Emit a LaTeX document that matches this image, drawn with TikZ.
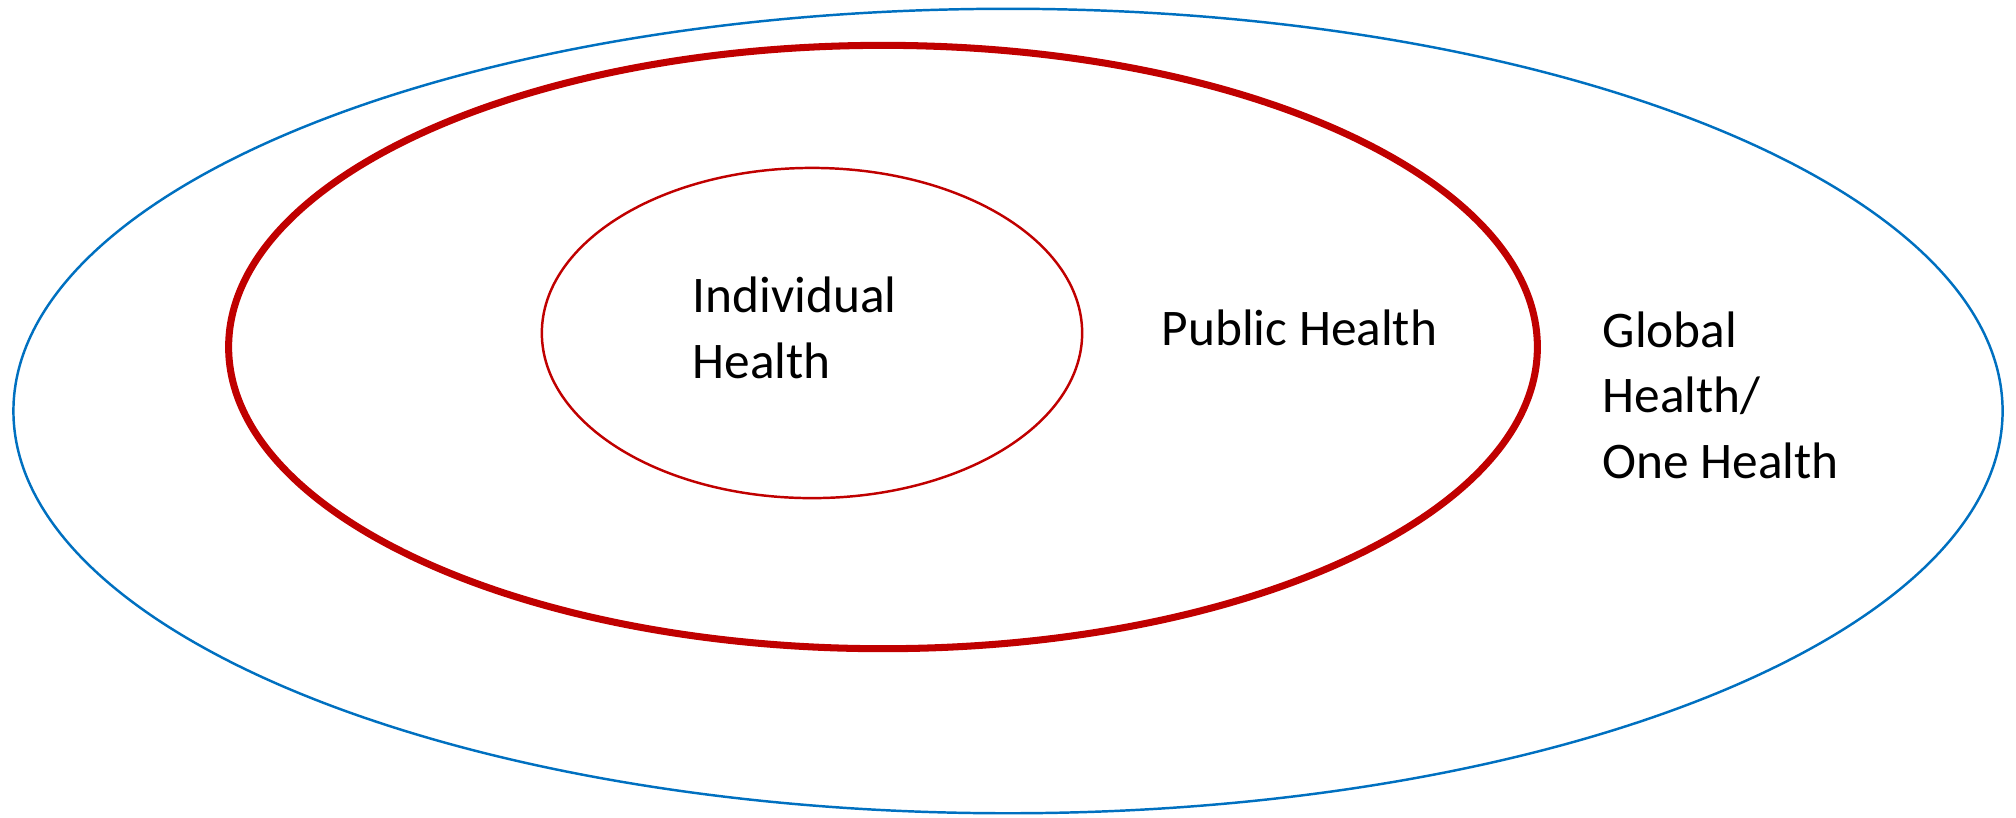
\documentclass[tikz,border=0pt]{standalone}
\usepackage{fontspec}
\setmainfont{Carlito}
\usetikzlibrary{shapes.geometric}

\definecolor{ringblue}{RGB}{0,112,192}
\definecolor{ringred}{RGB}{192,0,0}

\begin{document}
\begin{tikzpicture}[
    x=0.01cm, y=-0.01cm,
    ring/.style={ellipse, draw, inner sep=0pt, outer sep=0pt},
    label text/.style={inner sep=0pt, align=left, anchor=base west,
        font=\fontsize{14.6}{18.5}\selectfont}
]
    \useasboundingbox (0,0) rectangle (2016,817);

    % Rings
    \node[ring, draw=ringblue, line width=0.7pt, minimum width=19.88cm, minimum height=8.04cm] (GLOBAL) at (1008,411) {};
    \node[ring, draw=ringred, line width=2pt, minimum width=13.08cm, minimum height=6.03cm] (PUBLIC) at (883,347) {};
    \node[ring, draw=ringred, line width=0.7pt, minimum width=5.4cm, minimum height=3.3cm] (INDIV) at (812,333) {};

    % Labels (anchored at the baseline of the last line)
    \node[label text] (INDIVtext) at (692,378) {Individual\\Health};
    \node[label text] (PUBLICtext) at (1161,345) {Public Health};
    \node[label text] (GLOBALtext) at (1602,478) {Global\\Health/\\One Health};

\end{tikzpicture}
\end{document}
